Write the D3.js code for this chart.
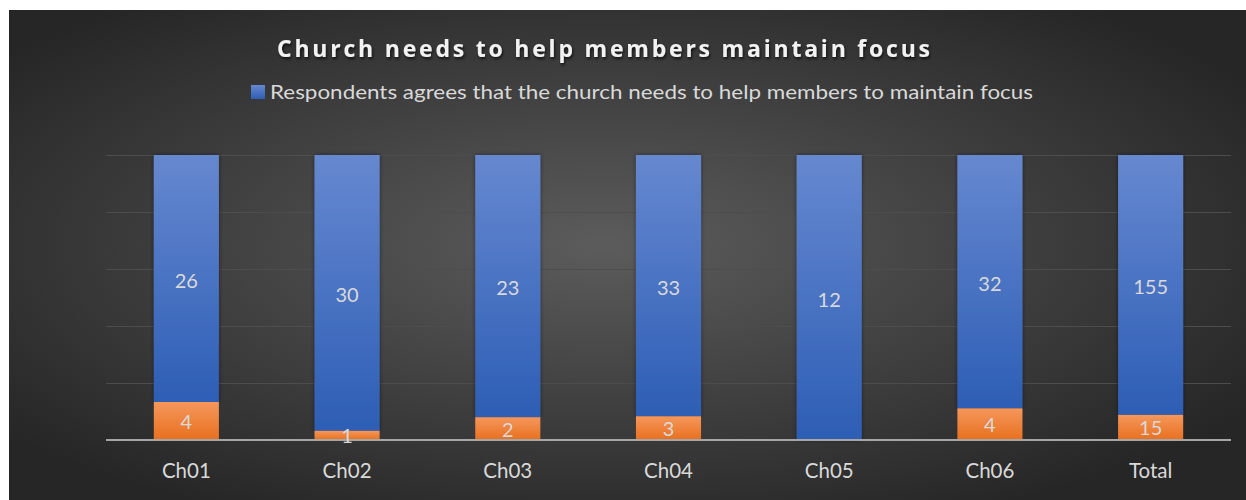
<!DOCTYPE html>
<html>
<head>
<meta charset="utf-8">
<script src="https://cdn.jsdelivr.net/npm/d3@7"></script>
<style>
  html, body { margin: 0; padding: 0; background: #ffffff; }
  svg { display: block; }
</style>
</head>
<body>
<svg id="chart" width="1246" height="500"></svg>
<script>
// Church survey: respondents per church who agree (blue) vs. the rest (orange)
const categories = ["Ch01", "Ch02", "Ch03", "Ch04", "Ch05", "Ch06", "Total"];
const agreeValues = [26, 30, 23, 33, 12, 32, 155];
const otherValues = [4, 1, 2, 3, 0, 4, 15];
const percentTicks = [0, 0.2, 0.4, 0.6, 0.8, 1.0];
const chartTitle = "Church needs to help members maintain focus";
const legendLabel = "Respondents agrees that the church needs to help members to maintain focus";

const W = 1246, H = 500;
const svg = d3.select("#chart");
const defs = svg.append("defs");

// dark radial backdrop
const bg = defs.append("radialGradient").attr("id", "bg")
  .attr("cx", "48%").attr("cy", "48%").attr("r", "62%");
bg.append("stop").attr("offset", "0%").attr("stop-color", "#5c5c5c");
bg.append("stop").attr("offset", "100%").attr("stop-color", "#262626");

const blueGrad = defs.append("linearGradient").attr("id", "blueGrad")
  .attr("x1", 0).attr("y1", 0).attr("x2", 0).attr("y2", 1);
blueGrad.append("stop").attr("offset", "0%").attr("stop-color", "#6688d0");
blueGrad.append("stop").attr("offset", "100%").attr("stop-color", "#2d5eb5");

const orangeGrad = defs.append("linearGradient").attr("id", "orangeGrad")
  .attr("x1", 0).attr("y1", 0).attr("x2", 0).attr("y2", 1);
orangeGrad.append("stop").attr("offset", "0%").attr("stop-color", "#f5975c");
orangeGrad.append("stop").attr("offset", "100%").attr("stop-color", "#e8701e");

const shadow = defs.append("filter").attr("id", "txtShadow")
  .attr("x", "-5%").attr("y", "-30%").attr("width", "110%").attr("height", "160%");
shadow.append("feDropShadow").attr("dx", 1).attr("dy", 2).attr("stdDeviation", 1.5)
  .attr("flood-color", "#000").attr("flood-opacity", 0.7);

const barShadow = defs.append("filter").attr("id", "barShadow")
  .attr("x", "-20%").attr("y", "-5%").attr("width", "140%").attr("height", "110%");
barShadow.append("feDropShadow").attr("dx", 0).attr("dy", 0).attr("stdDeviation", 2)
  .attr("flood-color", "#000").attr("flood-opacity", 0.45);

svg.append("rect").attr("x", 9).attr("y", 10).attr("width", W - 9).attr("height", H - 10)
  .attr("fill", "url(#bg)");

const margin = { left: 106, right: 1231, top: 155, bottom: 440 };

const x = d3.scaleBand().domain(categories)
  .range([margin.left, margin.right]).paddingInner(0.595).paddingOuter(0.2975);
const y = d3.scaleLinear().domain([0, 1]).range([margin.bottom, margin.top]);

// horizontal gridlines
const grid = svg.append("g").attr("transform", `translate(${margin.left},0)`)
  .call(d3.axisLeft(y).tickValues(percentTicks).tickSize(-(margin.right - margin.left)).tickFormat(""));
grid.select(".domain").remove();
grid.selectAll("line").attr("stroke", "#4d4d4d").attr("stroke-width", 1.2);

// stacked to 100%
const rows = categories.map((c, i) => {
  const total = agreeValues[i] + otherValues[i];
  return { cat: c, agree: agreeValues[i], other: otherValues[i],
           otherFrac: otherValues[i] / total };
});

const bars = svg.append("g");
// blue (agree) segment on top
bars.selectAll("rect.agree").data(rows).join("rect").attr("class", "agree")
  .attr("x", d => x(d.cat)).attr("width", x.bandwidth())
  .attr("y", y(1)).attr("height", d => y(d.otherFrac) - y(1))
  .attr("fill", "url(#blueGrad)").attr("filter", "url(#barShadow)");
// orange segment at the bottom
bars.selectAll("rect.other").data(rows.filter(d => d.other > 0)).join("rect").attr("class", "other")
  .attr("x", d => x(d.cat)).attr("width", x.bandwidth())
  .attr("y", d => y(d.otherFrac)).attr("height", d => y(0) - y(d.otherFrac))
  .attr("fill", "url(#orangeGrad)");

// baseline axis
svg.append("line").attr("x1", margin.left).attr("x2", margin.right)
  .attr("y1", y(0)).attr("y2", y(0))
  .attr("stroke", "#a6a6a6").attr("stroke-width", 2.2);

const font = "Lato, 'Open Sans', sans-serif";
const labelColor = "#d9d9d9";

// value labels
const lbl = svg.append("g").attr("font-family", font).attr("font-size", 20)
  .attr("fill", labelColor).attr("text-anchor", "middle");
lbl.selectAll("text.a").data(rows).join("text").attr("class", "a")
  .attr("x", d => x(d.cat) + x.bandwidth() / 2)
  .attr("y", d => (y(1) + y(d.otherFrac)) / 2)
  .attr("dy", "0.45em").text(d => d.agree);
lbl.selectAll("text.o").data(rows.filter(d => d.other > 0)).join("text").attr("class", "o")
  .attr("x", d => x(d.cat) + x.bandwidth() / 2)
  .attr("y", d => (y(d.otherFrac) + y(0)) / 2)
  .attr("dy", "0.4em").text(d => d.other);

// category axis labels
const xAxis = svg.append("g").attr("transform", `translate(0,${y(0)})`)
  .call(d3.axisBottom(x).tickSize(0).tickPadding(23));
xAxis.select(".domain").remove();
xAxis.selectAll("text").attr("font-family", font).attr("font-size", 20.5)
  .attr("fill", labelColor).attr("dy", "0.71em");

// title
svg.append("text").attr("x", 277).attr("y", 57)
  .attr("font-family", "'Open Sans', sans-serif").attr("font-weight", "bold")
  .attr("font-size", 23).attr("textLength", 653).attr("lengthAdjust", "spacing")
  .attr("fill", "#f2f2f2").attr("filter", "url(#txtShadow)").text(chartTitle);

// legend
const lg = svg.append("g");
lg.append("rect").attr("x", 251).attr("y", 85).attr("width", 14).attr("height", 14)
  .attr("fill", "url(#blueGrad)");
lg.append("text").attr("x", 270).attr("y", 99).attr("font-family", font).attr("font-size", 20)
  .attr("fill", labelColor).attr("textLength", 763).attr("lengthAdjust", "spacingAndGlyphs")
  .text(legendLabel);
</script>
</body>
</html>
